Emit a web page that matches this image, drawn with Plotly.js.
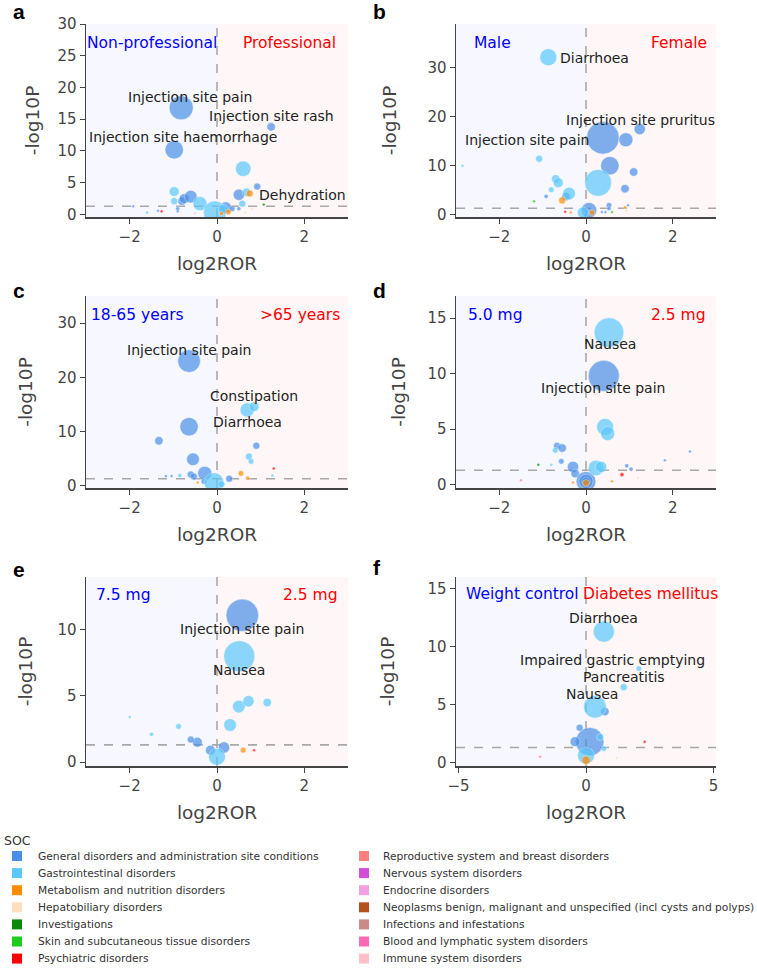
<!DOCTYPE html>
<html>
<head>
<meta charset="utf-8">
<script src="https://cdn.plot.ly/plotly-3.0.1.min.js"></script>
<style>
  html, body { margin: 0; padding: 0; background: #fff; }
  #chart { width: 757px; height: 968px; }
</style>
</head>
<body>
<div id="chart"></div>
<script>
// System organ classes and their colours
const socNames = [
  "General disorders and administration site conditions",
  "Gastrointestinal disorders",
  "Metabolism and nutrition disorders",
  "Hepatobiliary disorders",
  "Investigations",
  "Skin and subcutaneous tissue disorders",
  "Psychiatric disorders",
  "Reproductive system and breast disorders",
  "Nervous system disorders",
  "Endocrine disorders",
  "Neoplasms benign, malignant and unspecified (incl cysts and polyps)",
  "Infections and infestations",
  "Blood and lymphatic system disorders",
  "Immune system disorders"
];
const socColors = [
  "#4a8fe7", "#5ac8fa", "#ff8c00", "#ffdfc0", "#0a8a0a", "#1ccc1c", "#ff0000",
  "#ff7f7f", "#d04fd6", "#f0a2e0", "#b5501f", "#c98a8a", "#ff69b4", "#ffc0cb"
];

// a: reporter type
const aLog2ROR   = [-0.82, 1.24, -0.98, 0.6, 0.92, 0.5, 0.68, 0.75, 0.58, 1.07, -0.98, -0.98, -0.8, -0.75, -0.6, -0.39, -0.9, -0.9, -1.92, -1.27, -1.35, -0.05, 0.2, 0.14, 0.26, 0.1, 0.35, 0.5, 0.8, 0.65, -1.6, -0.5];
const aNegLog10P = [16.8, 13.8, 10.2, 7.2, 4.4, 3.1, 3.5, 3.3, 1.7, 1.55, 3.6, 2.1, 2.1, 2.5, 2.8, 1.7, 0.9, 0.5, 1.3, 0.5, 0.6, 0.35, 1.1, 0.8, 0.4, 0.15, 0.9, 0.9, 0.9, 0.3, 0.3, 0.2];
const aReports   = [290, 36, 170, 120, 25, 64, 36, 25, 25, 4, 49, 25, 36, 49, 81, 100, 9, 4, 4, 4, 4, 256, 64, 49, 16, 9, 16, 9, 4, 4, 2, 4];
const aSoc       = [0, 0, 0, 1, 0, 0, 1, 2, 1, 4, 1, 1, 0, 0, 0, 1, 0, 0, 0, 6, 0, 1, 0, 1, 2, 2, 0, 0, 3, 3, 1, 13];
const aGroups    = ["Non-professional", "Professional"];
const aLabelText = ["Injection site pain", "Injection site rash", "Injection site haemorrhage", "Dehydration"];
const aLabelIdx  = [0, 1, 2, 7];

// b: sex
const bLog2ROR   = [-0.87, 0.39, 0.92, 1.24, 0.55, 1.1, 0.28, 0.9, -1.08, -0.7, -0.64, -0.8, -0.92, -0.39, -0.46, -0.55, -1.2, -2.85, 0.07, -0.07, 0.14, 0.53, 0.53, 0.97, 0.9, -0.48, -0.35, 0.6, 0.37, 0.45, 0.93];
const bNegLog10P = [32.2, 15.7, 15.3, 17.5, 10.0, 8.7, 6.5, 5.3, 11.4, 7.3, 6.5, 5.1, 3.7, 4.3, 3.7, 2.9, 2.7, 10.0, 0.9, 0.4, 0.4, 1.9, 1.2, 1.9, 1.5, 0.6, 0.4, 0.5, 0.5, 0.5, 0.8];
const bReports   = [144, 530, 100, 64, 170, 36, 360, 36, 25, 36, 49, 16, 9, 81, 36, 25, 4, 2, 121, 64, 16, 16, 9, 4, 4, 4, 4, 4, 4, 4, 4];
const bSoc       = [1, 0, 0, 0, 0, 0, 1, 0, 1, 1, 1, 1, 0, 1, 0, 2, 5, 1, 0, 1, 2, 0, 0, 0, 2, 6, 2, 5, 0, 0, 3];
const bGroups    = ["Male", "Female"];
const bLabelText = ["Diarrhoea", "Injection site pruritus", "Injection site pain"];
const bLabelIdx  = [0, 3, 1];

// c: age group
const cLog2ROR   = [-0.64, 0.69, 0.85, -0.64, -1.33, 0.9, 0.73, 0.78, -0.55, -0.28, -0.6, -0.53, -0.85, -1.17, -1.04, -0.07, 0.28, 0.55, 0.7, 1.3, -0.44, 1.27, -0.3, 0.1];
const cNegLog10P = [23.0, 14.0, 14.6, 10.9, 8.3, 7.4, 5.4, 4.5, 4.9, 2.3, 2.1, 1.7, 1.9, 1.8, 1.8, 0.6, 1.3, 2.3, 1.4, 3.2, 0.6, 1.9, 0.8, 0.3];
const cReports   = [256, 100, 49, 170, 36, 25, 25, 16, 81, 100, 25, 25, 9, 4, 4, 196, 25, 16, 9, 2, 4, 2, 16, 25];
const cSoc       = [0, 1, 1, 0, 0, 0, 1, 1, 0, 0, 0, 0, 1, 0, 0, 1, 0, 2, 2, 6, 2, 1, 0, 1];
const cGroups    = ["18-65 years", ">65 years"];
const cLabelText = ["Injection site pain", "Constipation", "Diarrhoea"];
const cLabelIdx  = [0, 2, 1];

// d: 5.0 mg vs 2.5 mg
const dLog2ROR   = [0.53, 0.41, 0.44, 0.5, -0.67, -0.55, -0.71, -0.57, -0.8, -1.1, -0.3, -0.25, 0.0, 0.0, 0.0, 0.0, 0.23, 0.35, 0.94, 1.04, 0.83, 1.82, 2.4, -1.5, 0.6, 1.2, -0.3];
const dNegLog10P = [13.7, 9.8, 5.2, 4.6, 3.5, 3.3, 3.1, 2.1, 1.8, 1.8, 1.6, 1.0, 0.3, 0.3, 0.3, 0.15, 1.5, 1.6, 1.7, 1.4, 0.9, 2.2, 3.0, 0.4, 0.3, 0.6, 0.2];
const dReports   = [441, 484, 144, 100, 25, 36, 16, 16, 4, 4, 64, 36, 196, 100, 36, 25, 121, 64, 9, 9, 9, 2, 2, 2, 2, 2, 2];
const dSoc       = [1, 0, 1, 1, 0, 0, 1, 0, 1, 4, 0, 0, 0, 0, 0, 2, 1, 1, 0, 0, 6, 0, 0, 7, 2, 3, 2];
const dGroups    = ["5.0 mg", "2.5 mg"];
const dLabelText = ["Nausea", "Injection site pain"];
const dLabelIdx  = [0, 1];

// e: 7.5 mg vs 2.5 mg
const eLog2ROR   = [0.58, 0.51, 0.5, 0.72, 1.15, 0.3, -0.45, -0.6, -1.5, -2.0, -0.88, 0.16, 0.0, -0.15, 0.6, 0.85];
const eNegLog10P = [11.1, 8.0, 4.2, 4.6, 4.5, 2.8, 1.5, 1.7, 2.1, 3.4, 2.7, 1.1, 0.4, 0.9, 0.9, 0.9];
const eReports   = [530, 484, 81, 64, 36, 81, 49, 25, 9, 2, 16, 64, 144, 49, 16, 4];
const eSoc       = [0, 1, 1, 1, 1, 1, 0, 0, 1, 1, 1, 0, 1, 0, 2, 6];
const eGroups    = ["7.5 mg", "2.5 mg"];
const eLabelText = ["Injection site pain", "Nausea"];
const eLabelIdx  = [0, 1];

// f: indication
const fLog2ROR   = [0.7, 2.07, 1.48, 0.35, 0.74, 0.15, 0.0, 0.0, -0.43, -0.25, 0.55, 0.7, 2.3, -1.8, 1.2];
const fNegLog10P = [11.3, 8.1, 6.5, 4.8, 4.4, 1.8, 0.6, 0.2, 1.8, 3.0, 2.2, 1.2, 1.8, 0.5, 0.4];
const fReports   = [225, 16, 25, 256, 36, 400, 144, 36, 49, 25, 25, 16, 4, 2, 2];
const fSoc       = [1, 1, 1, 1, 0, 0, 1, 2, 0, 0, 1, 1, 6, 7, 3];
const fGroups    = ["Weight control", "Diabetes mellitus"];
const fLabelText = ["Diarrhoea", "Impaired gastric emptying", "Pancreatitis", "Nausea"];
const fLabelIdx  = [0, 1, 2, 3];

// Significance threshold p = 0.05
const pThreshold = -Math.log10(0.05);

const W = 757, H = 968;
const px = v => v / W;
const py = v => 1 - v / H;
const colDomains = [[px(86), px(348)], [px(456), px(716)]];
const rowDomains = [[py(217), py(24)], [py(488), py(296)], [py(766), py(577)]];

const panels = [
  { letter: "a", lx: 11, ly: 12, x: aLog2ROR, y: aNegLog10P, n: aReports, soc: aSoc, groups: aGroups, labels: aLabelText, idx: aLabelIdx,
    shifts: [[9, 11, "center"], [0, 11, "center"], [9, 13, "center"], [7, -1, "left"]],
    groupPos: [[-1.49, 27], [1.65, 27]], xr: [-3, 3], yr: [-0.4, 30], dtick: 5, col: 0, row: 0, ystand: 13 },
  { letter: "b", lx: 371, ly: 12, x: bLog2ROR, y: bNegLog10P, n: bReports, soc: bSoc, groups: bGroups, labels: bLabelText, idx: bLabelIdx,
    shifts: [[10, -1, "left"], [1, 9, "center"], [-12, -2, "right"]],
    groupPos: [[-2.16, 35.1], [2.14, 35.1]], xr: [-3, 3], yr: [-0.5, 39], dtick: 10, col: 1, row: 0, ystand: 26 },
  { letter: "c", lx: 11, ly: 290, x: cLog2ROR, y: cNegLog10P, n: cReports, soc: cSoc, groups: cGroups, labels: cLabelText, idx: cLabelIdx,
    shifts: [[0, 11, "center"], [0, 11, "center"], [0, -12, "center"]],
    groupPos: [[-1.82, 31.5], [1.89, 31.5]], xr: [-3, 3], yr: [-0.4, 35], dtick: 10, col: 0, row: 1, ystand: 20 },
  { letter: "d", lx: 371, ly: 290, x: dLog2ROR, y: dNegLog10P, n: dReports, soc: dSoc, groups: dGroups, labels: dLabelText, idx: dLabelIdx,
    shifts: [[1, -11, "center"], [-1, -12, "center"]],
    groupPos: [[-2.09, 15.3], [2.14, 15.3]], xr: [-3, 3], yr: [-0.3, 17], dtick: 5, col: 1, row: 1, ystand: 17 },
  { letter: "e", lx: 11, ly: 569, x: eLog2ROR, y: eNegLog10P, n: eReports, soc: eSoc, groups: eGroups, labels: eLabelText, idx: eLabelIdx,
    shifts: [[0, -14, "center"], [0, -14, "center"]],
    groupPos: [[-2.14, 12.65], [2.14, 12.65]], xr: [-3, 3], yr: [-0.3, 14], dtick: 5, col: 0, row: 2, ystand: 20 },
  { letter: "f", lx: 371, ly: 567, x: fLog2ROR, y: fNegLog10P, n: fReports, soc: fSoc, groups: fGroups, labels: fLabelText, idx: fLabelIdx,
    shifts: [[0, 14, "center"], [-26, 9, "center"], [0, 10, "center"], [-3, 13, "center"]],
    groupPos: [[-2.5, 14.5], [2.54, 14.5]], xr: [-5.1, 5.1], yr: [-0.3, 16], dtick: 5, col: 1, row: 2, ystand: 28 }
];

const FONT = "DejaVu Sans, Verdana, sans-serif";
const traces = [];
const shapes = [];
const annotations = [];
const layout = {
  width: W, height: H,
  margin: { l: 0, r: 0, t: 0, b: 0 },
  paper_bgcolor: "#ffffff",
  plot_bgcolor: "#ffffff",
  showlegend: false,
  font: { family: FONT, color: "#444" }
};

panels.forEach((p, i) => {
  const k = i + 1;
  const xa = "x" + (k === 1 ? "" : k), ya = "y" + (k === 1 ? "" : k);
  const xKey = "xaxis" + (k === 1 ? "" : k), yKey = "yaxis" + (k === 1 ? "" : k);

  layout[xKey] = {
    domain: colDomains[p.col], anchor: ya, range: p.xr,
    tickvals: p.col === 1 && p.row === 2 ? [-5, 0, 5] : [-2, 0, 2],
    showgrid: false, zeroline: false, showline: true, linecolor: "#444", linewidth: 1.5,
    ticks: "outside", ticklen: 5, tickcolor: "#444", tickwidth: 1,
    tickfont: { size: 15, color: "#444" },
    title: { text: "log2ROR", font: { size: 18.5, color: "#444" }, standoff: 12 }
  };
  layout[yKey] = {
    domain: rowDomains[p.row], anchor: xa, range: p.yr, dtick: p.dtick,
    showgrid: false, zeroline: false, showline: true, linecolor: "#444", linewidth: 1.5,
    ticks: "outside", ticklen: 5, tickcolor: "#444", tickwidth: 1,
    tickfont: { size: 15, color: "#444" },
    title: { text: "-log10P", font: { size: 18.5, color: "#444" }, standoff: p.ystand }
  };

  // shaded halves
  shapes.push({ type: "rect", xref: xa, yref: ya + " domain", x0: p.xr[0], x1: 0, y0: 0, y1: 1,
    fillcolor: "rgba(60,90,255,0.045)", line: { width: 0 }, layer: "below" });
  shapes.push({ type: "rect", xref: xa, yref: ya + " domain", x0: 0, x1: p.xr[1], y0: 0, y1: 1,
    fillcolor: "rgba(255,60,60,0.045)", line: { width: 0 }, layer: "below" });
  // reference lines
  shapes.push({ type: "line", xref: xa, yref: ya + " domain", x0: 0, x1: 0, y0: 0, y1: 1,
    line: { color: "#a8a8a8", width: 1.6, dash: "dash" }, layer: "below" });
  shapes.push({ type: "line", xref: xa + " domain", yref: ya, x0: 0, x1: 1, y0: pThreshold, y1: pThreshold,
    line: { color: "#a8a8a8", width: 1.6, dash: "dash" }, layer: "below" });

  // one trace per system organ class present in the panel
  socNames.forEach((name, s) => {
    const xs = [], ys = [], ns = [];
    p.soc.forEach((c, j) => { if (c === s) { xs.push(p.x[j]); ys.push(p.y[j]); ns.push(p.n[j]); } });
    if (!xs.length) return;
    traces.push({
      type: "scatter", mode: "markers", name: name, xaxis: xa, yaxis: ya,
      x: xs, y: ys,
      marker: { size: ns, sizemode: "area", sizeref: 1, sizemin: 1.5, color: socColors[s], opacity: 0.7,
        line: { color: "rgba(255,255,255,0.8)", width: 0.6 } },
      hoverinfo: "x+y+name"
    });
  });

  // panel letter
  annotations.push({ xref: "paper", yref: "paper", x: px(p.lx), y: py(p.ly), xanchor: "left", yanchor: "middle",
    text: "<b>" + p.letter + "</b>", showarrow: false, font: { family: "Liberation Sans, Arial, sans-serif", size: 21, color: "#000" } });

  // comparison group captions
  p.groups.forEach((g, j) => {
    annotations.push({ xref: xa, yref: ya, x: p.groupPos[j][0], y: p.groupPos[j][1], text: g, showarrow: false,
      xanchor: "center", yanchor: "middle", font: { size: 15.5, color: j === 0 ? "#0000ff" : "#ff0000" } });
  });

  // preferred term labels
  p.labels.forEach((t, j) => {
    const q = p.idx[j], sh = p.shifts[j];
    annotations.push({ xref: xa, yref: ya, x: p.x[q], y: p.y[q], text: t, showarrow: false,
      xshift: sh[0], yshift: sh[1], xanchor: sh[2], yanchor: "middle", font: { size: 14, color: "#222" } });
  });
});

// legend block: two columns of seven entries
annotations.push({ xref: "paper", yref: "paper", x: px(2), y: py(840), xanchor: "left", yanchor: "middle",
  text: "SOC", showarrow: false, font: { size: 12.5, color: "#333" } });
socNames.forEach((name, s) => {
  const col = s < 7 ? 0 : 1, row = s % 7;
  const cy = 856 + row * 17.1;
  const sx = col === 0 ? 12 : 359;
  const tx = col === 0 ? 36 : 381;
  shapes.push({ type: "rect", xref: "paper", yref: "paper", x0: px(sx), x1: px(sx + 10), y0: py(cy + 5), y1: py(cy - 5),
    fillcolor: socColors[s], line: { width: 0 } });
  annotations.push({ xref: "paper", yref: "paper", x: px(tx), y: py(cy), xanchor: "left", yanchor: "middle",
    text: name, showarrow: false, font: { size: 10.7, color: "#333" } });
});

layout.shapes = shapes;
layout.annotations = annotations;

Plotly.newPlot("chart", traces, layout, { displayModeBar: false, staticPlot: true });
</script>
</body>
</html>
